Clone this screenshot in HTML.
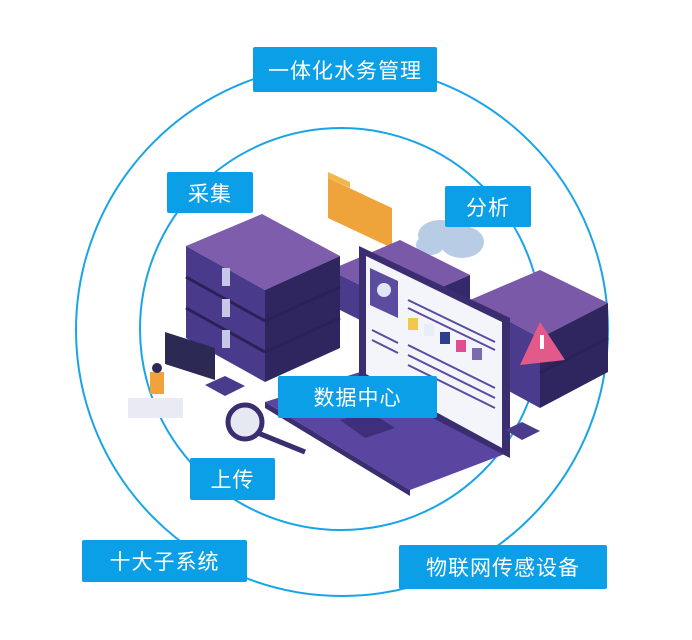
<!DOCTYPE html>
<html><head><meta charset="utf-8"><style>
html,body{margin:0;padding:0;background:#fff;}
.wrap{position:relative;width:692px;height:640px;overflow:hidden;font-family:"Liberation Sans","Noto Sans CJK SC",sans-serif;}
.lbl{position:absolute;background:#0a9fe6;color:#fff;font-size:21px;display:flex;align-items:center;justify-content:center;border-radius:2px;letter-spacing:1px;}
svg{position:absolute;left:0;top:0;}
</style></head><body><div class="wrap">
<svg width="692" height="640" viewBox="0 0 692 640">
<circle cx="342" cy="330" r="266" fill="none" stroke="#1aa4e8" stroke-width="2"/>
<circle cx="341" cy="329" r="201" fill="none" stroke="#1aa4e8" stroke-width="2"/>
<!-- cloud -->
<g fill="#b9cce6"><ellipse cx="440" cy="235" rx="22" ry="15"/><ellipse cx="462" cy="242" rx="22" ry="16"/><ellipse cx="430" cy="245" rx="14" ry="10"/></g>
<!-- folder -->
<polygon points="328,178 392,208 392,248 328,218" fill="#eea43a"/>
<polygon points="328,178 350,188 350,182 328,172" fill="#f3b64f"/>
<!-- middle server -->
<polygon points="330,270 400,240 470,275 400,305" fill="#7a5aa8"/>
<polygon points="330,270 400,305 400,340 330,305" fill="#4a3b8c"/>
<polygon points="400,305 470,275 470,310 400,340" fill="#34296a"/>
<!-- left stack -->
<polygon points="186,246 262,214 340,256 265,290" fill="#7d5dac"/>
<polygon points="186,246 265,290 265,382 186,338" fill="#4a3a8b"/>
<polygon points="265,290 340,256 340,348 265,382" fill="#30265f"/>
<g stroke="#2b2158" stroke-width="3"><line x1="186" y1="277" x2="265" y2="321"/><line x1="265" y1="321" x2="340" y2="287"/><line x1="186" y1="308" x2="265" y2="352"/><line x1="265" y1="352" x2="340" y2="318"/></g>
<g fill="#c6c8e8"><rect x="222" y="268" width="8" height="18"/><rect x="222" y="299" width="8" height="18"/><rect x="222" y="330" width="8" height="18"/></g>
<!-- right stack -->
<polygon points="470,300 540,270 608,303 540,338" fill="#7a5aa8"/>
<polygon points="470,300 540,338 540,408 470,370" fill="#4a3b8c"/>
<polygon points="540,338 608,303 608,372 540,408" fill="#30265f"/>
<line x1="540" y1="373" x2="608" y2="338" stroke="#2b2158" stroke-width="3"/>
<!-- laptop base -->
<polygon points="265,402 360,372 510,452 410,490" fill="#5a46a0"/>
<polygon points="265,402 410,490 410,496 265,408" fill="#3a2d70"/>
<polygon points="340,420 370,412 395,428 365,438" fill="#3f2f7a"/>
<!-- screen -->
<polygon points="359,246 510,318 510,458 359,380" fill="#3a2d70"/>
<polygon points="366,256 502,322 502,448 366,374" fill="#f4f4fb"/>
<polygon points="370,268 398,281 398,318 370,305" fill="#5b4ca0"/>
<circle cx="384" cy="290" r="7" fill="#dfe6f6"/>
<g><rect x="408" y="318" width="10" height="12" fill="#f1c84a"/><rect x="424" y="324" width="10" height="12" fill="#e8eef8"/><rect x="440" y="332" width="10" height="12" fill="#2d3f8f"/><rect x="456" y="340" width="10" height="12" fill="#e04d90"/><rect x="472" y="348" width="10" height="12" fill="#7a6ab0"/></g>
<g stroke="#5b4ca0" stroke-width="2"><line x1="408" y1="300" x2="495" y2="342"/><line x1="408" y1="308" x2="495" y2="350"/><line x1="408" y1="345" x2="495" y2="388"/><line x1="408" y1="355" x2="495" y2="398"/><line x1="408" y1="365" x2="495" y2="408"/><line x1="372" y1="330" x2="398" y2="343"/><line x1="372" y1="340" x2="398" y2="353"/></g>
<!-- warning -->
<polygon points="540,322 520,365 565,360" fill="#e35a8a"/>
<rect x="540" y="335" width="4" height="14" fill="#fff"/>
<!-- small monitor left -->
<polygon points="165,332 215,348 215,380 165,364" fill="#2c2a55"/>
<!-- person -->
<rect x="128" y="398" width="55" height="20" fill="#e9eaf3"/>
<rect x="150" y="372" width="14" height="22" fill="#f2a23a"/>
<circle cx="157" cy="368" r="5" fill="#2c2a55"/>
<!-- chips -->
<polygon points="205,385 225,376 245,386 225,396" fill="#4a3b8c"/>
<polygon points="505,430 522,422 540,431 522,440" fill="#4a3b8c"/>
<!-- magnifier -->
<circle cx="245" cy="422" r="17" fill="#e6e8f2" stroke="#3a2d70" stroke-width="5"/>
<line x1="258" y1="433" x2="305" y2="452" stroke="#3a2d70" stroke-width="5"/>
</svg>
<div class="lbl" style="left:253px;top:47px;width:184px;height:45px;">一体化水务管理</div>
<div class="lbl" style="left:167px;top:172px;width:86px;height:41px;">采集</div>
<div class="lbl" style="left:445px;top:186px;width:86px;height:41px;">分析</div>
<div class="lbl" style="left:278px;top:376px;width:159px;height:42px;">数据中心</div>
<div class="lbl" style="left:190px;top:458px;width:85px;height:42px;">上传</div>
<div class="lbl" style="left:82px;top:540px;width:165px;height:42px;">十大子系统</div>
<div class="lbl" style="left:399px;top:545px;width:208px;height:44px;">物联网传感设备</div>
</div></body></html>
